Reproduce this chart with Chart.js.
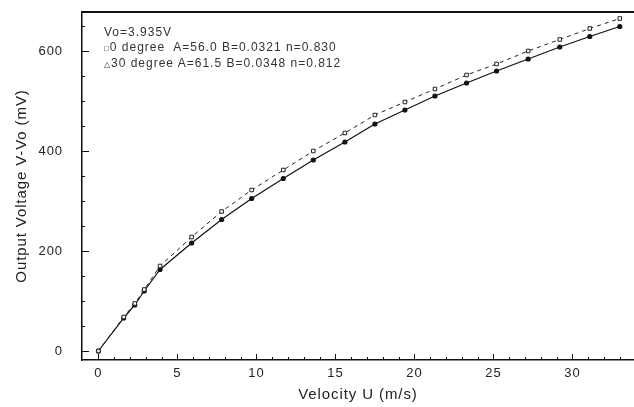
<!DOCTYPE html>
<html>
<head>
<meta charset="utf-8">
<script src="https://cdn.jsdelivr.net/npm/chart.js@4"></script>
<style>
  html, body { margin: 0; padding: 0; background: #fff; }
  #wrap { position: relative; width: 634px; height: 407px; }
  #note {
    position: absolute; left: 104px; top: 25px;
    font: 12px "Liberation Sans", Arial, sans-serif; color: #333;
    letter-spacing: 1px; line-height: 14.5px; white-space: pre;
  }
  #note .m { font-size: 8px; }
</style>
</head>
<body>
<div id="wrap">
  <canvas id="velChart" width="634" height="407"></canvas>
  <div id="note">Vo=3.935V
<span class="m">□</span>0 degree  A=56.0 B=0.0321 n=0.830
<span class="m">△</span>30 degree A=61.5 B=0.0348 n=0.812</div>
</div>
<script>
// datos
const velocidad = [0, 1.6, 2.3, 2.9, 3.9, 5.9, 7.8, 9.7, 11.7, 13.6, 15.6, 17.5, 19.4, 21.3, 23.3, 25.2, 27.2, 29.2, 31.1, 33.0];
const voltaje0 = [0, 68, 95, 123, 170, 228, 279, 322, 362, 400, 436, 472, 498, 524, 552, 574, 600, 623, 645, 665];
const voltaje30 = [0, 66, 92, 120, 163, 216, 263, 305, 345, 382, 418, 454, 482, 510, 536, 560, 584, 608, 629, 649];
const xTicks = [0, 5, 10, 15, 20, 25, 30];
const yTicks = [0, 200, 400, 600];

const toPoints = (vals) => vals.map((v, i) => ({ x: velocidad[i], y: v }));

//Espaciado de letras como en el escaneo
const espaciado = {
  id: "espaciado",
  beforeUpdate(chart) { chart.ctx.letterSpacing = "0.9px"; },
  beforeDraw(chart) { chart.ctx.letterSpacing = "0.9px"; },
};

//Marcas hacia adentro y linea superior
const marco = {
  id: "marco",
  afterDraw(chart) {
    const { ctx, chartArea: a, scales: { x, y } } = chart;
    ctx.save();
    ctx.strokeStyle = "#111";
    ctx.lineWidth = 1;
    ctx.beginPath();
    for (let v = 0; v <= 33; v++) {
      const px = Math.round(x.getPixelForValue(v)) + 0.5;
      const len = v % 5 === 0 ? 6 : 3;
      ctx.moveTo(px, a.bottom);
      ctx.lineTo(px, a.bottom - len);
    }
    for (let v = 0; v <= 650; v += 50) {
      const py = Math.round(y.getPixelForValue(v)) + 0.5;
      const len = v % 200 === 0 ? 7 : 3;
      ctx.moveTo(a.left, py);
      ctx.lineTo(a.left + len, py);
    }
    ctx.stroke();
    ctx.lineWidth = 2;
    ctx.beginPath();
    ctx.moveTo(a.left, a.top);
    ctx.lineTo(a.right, a.top);
    ctx.stroke();
    ctx.restore();
  },
};

const tickFont = { family: "'Liberation Sans', Arial, sans-serif", size: 13 };
const titleFont = { family: "'Liberation Sans', Arial, sans-serif", size: 15 };

new Chart("velChart", {
  type: "line",
  data: {
    datasets: [
      {
        label: "0 degree",
        data: toPoints(voltaje0),
        borderColor: "#222",
        borderWidth: 1,
        borderDash: [4, 4],
        pointStyle: "rect",
        pointRadius: 2.5,
        pointBackgroundColor: "#fff",
        pointBorderColor: "#222",
        pointBorderWidth: 1,
        tension: 0,
      },
      {
        label: "30 degree",
        data: toPoints(voltaje30),
        borderColor: "#111",
        borderWidth: 1.2,
        pointStyle: "circle",
        pointRadius: 2,
        pointBackgroundColor: "#111",
        pointBorderColor: "#111",
        tension: 0,
      },
    ],
  },
  options: {
    responsive: false,
    animation: false,
    layout: { autoPadding: false, padding: { top: 12, right: 0, left: 0, bottom: 0 } },
    plugins: { legend: { display: false }, tooltip: { enabled: false } },
    scales: {
      x: {
        type: "linear",
        min: -1.04,
        max: 33.9,
        afterBuildTicks: (s) => { s.ticks = xTicks.map((v) => ({ value: v })); },
        afterFit: (s) => { s.height = 47; s.paddingLeft = 0; s.paddingRight = 0; },
        grid: { display: false, drawTicks: false },
        border: { display: true, color: "#111", width: 1.5 },
        ticks: { color: "#222", font: tickFont, padding: 6, maxRotation: 0 },
        title: { display: true, text: "Velocity U (m/s)", color: "#222", font: titleFont, padding: { top: 0, bottom: 3 } },
      },
      y: {
        min: -18,
        max: 678,
        afterBuildTicks: (s) => { s.ticks = yTicks.map((v) => ({ value: v })); },
        afterFit: (s) => { s.width = 82; s.paddingTop = 0; s.paddingBottom = 0; },
        grid: { display: false, drawTicks: false },
        border: { display: true, color: "#111", width: 1.5 },
        ticks: { color: "#222", font: tickFont, padding: 19 },
        title: { display: true, text: "Output Voltage V-Vo (mV)", color: "#222", font: titleFont, padding: { bottom: 0, top: 13 } },
      },
    },
  },
  plugins: [espaciado, marco],
});
</script>
</body>
</html>
